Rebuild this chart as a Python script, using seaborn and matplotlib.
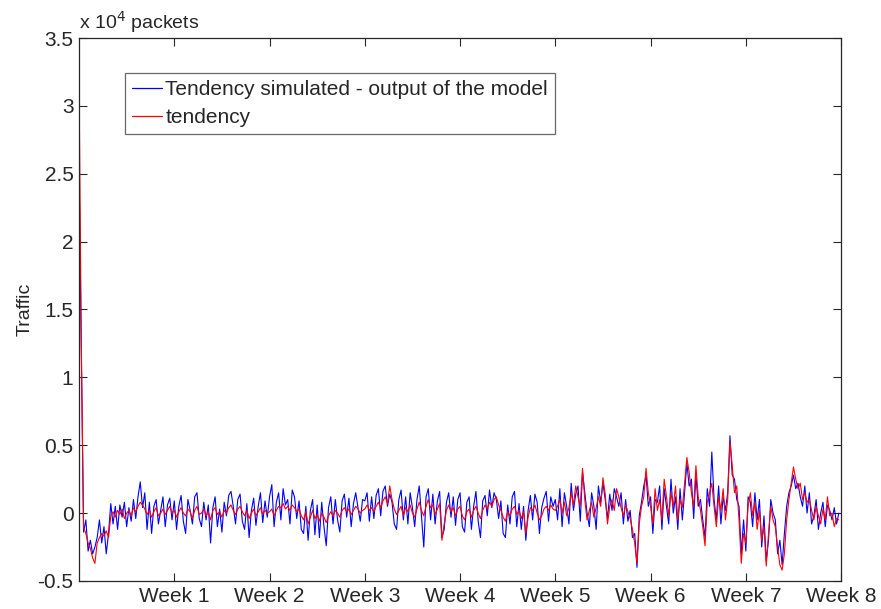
import numpy as np
import pandas as pd
import matplotlib
matplotlib.use("Agg")
import matplotlib.pyplot as plt
import seaborn as sns

# Traffic tendency, in units of 10^4 packets, one sample every 4 hours (8 weeks)
tendency_sim = [
    # week 0
    2.55, 1.20, -0.14, -0.05, -0.28, -0.20, -0.30, -0.25, -0.18, -0.05, -0.22, -0.10, -0.30, -0.15,
    0.07, -0.08, 0.05, -0.12, 0.06, -0.03, 0.08, -0.10, 0.04, -0.06, 0.10, -0.04, 0.12, 0.23,
    0.04, 0.15, -0.12, 0.08, -0.15, 0.05, 0.10, -0.08, 0.02, 0.12, -0.10, 0.06, 0.11, -0.05,
    # week 1
    0.09, -0.12, 0.05, 0.13, -0.06, -0.15, 0.10, 0.02, -0.08, 0.12, 0.15, -0.04, -0.10, 0.08,
    -0.05, 0.06, -0.22, 0.04, 0.12, -0.10, 0.03, -0.14, 0.08, -0.02, 0.13, 0.16, 0.05, -0.08,
    0.10, 0.14, -0.06, -0.12, 0.07, -0.18, 0.02, 0.11, -0.09, 0.05, 0.15, -0.07, 0.09, -0.03,
    # week 2
    0.12, 0.21, -0.10, 0.08, 0.15, -0.05, 0.18, 0.06, 0.10, -0.08, 0.17, 0.12, -0.04, 0.09,
    -0.12, -0.15, 0.05, -0.20, 0.02, 0.10, -0.16, 0.06, -0.18, 0.08, -0.10, -0.24, 0.04, 0.12,
    -0.08, 0.10, -0.05, -0.14, 0.09, 0.14, -0.03, 0.11, -0.10, 0.07, 0.15, 0.04, -0.06, 0.10,
    # week 3
    0.09, 0.15, -0.06, 0.12, -0.04, 0.13, 0.18, -0.02, 0.16, 0.20, 0.05, 0.14, 0.08, -0.08,
    -0.12, 0.10, 0.17, -0.05, 0.12, -0.08, 0.15, 0.04, -0.10, 0.10, 0.20, -0.02, -0.25, 0.12,
    0.18, -0.05, 0.14, -0.08, 0.09, 0.16, -0.18, -0.12, 0.08, 0.15, -0.03, 0.12, -0.09, 0.10,
    # week 4
    0.15, -0.10, -0.14, 0.08, 0.12, -0.12, 0.05, 0.16, -0.06, -0.18, 0.09, 0.13, -0.02, 0.17,
    0.04, 0.15, 0.10, -0.04, 0.09, -0.15, -0.18, 0.06, -0.08, 0.12, 0.16, -0.10, 0.07, -0.12,
    0.05, -0.20, 0.02, 0.13, -0.05, 0.14, 0.08, -0.15, 0.04, 0.11, 0.16, -0.06, 0.12, 0.05,
    # week 5
    0.10, -0.05, 0.18, -0.10, 0.15, 0.05, -0.08, 0.22, 0.02, 0.14, 0.20, -0.06, 0.30, 0.15,
    0.00, -0.10, 0.15, 0.05, -0.12, 0.20, 0.08, 0.22, 0.10, -0.04, 0.14, 0.02, 0.18, 0.12,
    0.05, 0.15, -0.08, 0.10, -0.06, 0.02, -0.18, -0.15, -0.40, -0.02, 0.08, 0.20, 0.28, 0.05,
    # week 6
    0.12, -0.15, 0.10, 0.08, 0.20, -0.12, 0.18, 0.05, -0.08, 0.25, 0.00, 0.12, -0.12, 0.18,
    -0.05, 0.15, 0.37, 0.20, 0.25, -0.04, 0.28, 0.05, 0.10, -0.05, -0.18, 0.18, 0.05, 0.45,
    0.10, -0.05, 0.20, -0.08, 0.12, 0.02, 0.15, 0.57, 0.28, 0.25, 0.10, 0.05, -0.30, -0.05,
    # week 7
    -0.28, 0.12, 0.08, -0.10, 0.15, -0.05, 0.10, -0.25, -0.02, -0.35, -0.20, 0.10, 0.00, -0.05,
    -0.30, -0.20, -0.38, -0.15, 0.05, 0.15, 0.20, 0.28, 0.18, 0.22, 0.12, 0.05, 0.20, 0.00,
    0.15, -0.08, -0.02, 0.10, -0.12, 0.00, 0.08, -0.10, 0.06, 0.02, -0.05, 0.04, -0.08, 0.00,
]

tendency_obs = [
    # week 0
    3.20, 1.25, -0.10, -0.15, -0.22, -0.26, -0.33, -0.37, -0.22, -0.18, -0.15, -0.17, -0.13, -0.18,
    -0.02, 0.01, -0.03, 0.02, -0.01, 0.03, -0.04, 0.00, 0.02, -0.02, 0.04, 0.01, 0.05, 0.08,
    0.06, 0.03, -0.01, 0.02, -0.03, 0.01, 0.04, -0.02, 0.00, 0.03, -0.01, 0.02, 0.05, 0.00,
    # week 1
    0.02, -0.03, 0.01, 0.04, 0.00, -0.02, 0.03, 0.01, -0.04, 0.02, 0.05, -0.01, 0.00, 0.03,
    -0.02, 0.01, -0.05, 0.02, 0.04, -0.01, 0.01, -0.03, 0.02, 0.00, 0.04, 0.06, 0.02, -0.01,
    0.03, 0.05, 0.01, -0.02, 0.02, -0.04, 0.00, 0.03, -0.02, 0.01, 0.04, -0.01, 0.02, 0.00,
    # week 2
    0.01, 0.03, -0.02, 0.02, 0.05, 0.04, 0.07, 0.03, 0.05, 0.02, 0.06, 0.04, 0.01, 0.03,
    -0.02, -0.05, 0.01, -0.08, -0.03, 0.02, -0.04, -0.01, -0.06, 0.00, -0.03, -0.07, -0.02, 0.01,
    -0.02, 0.02, 0.00, -0.03, 0.02, 0.04, 0.01, 0.03, -0.01, 0.02, 0.05, 0.03, 0.00, 0.02,
    # week 3
    0.03, 0.06, 0.02, 0.04, 0.01, 0.05, 0.08, 0.04, 0.09, 0.12, 0.07, 0.20, 0.10, 0.03,
    -0.01, 0.02, 0.05, -0.02, 0.04, 0.01, 0.06, 0.00, -0.03, 0.03, 0.08, 0.02, -0.02, 0.05,
    0.10, 0.04, 0.06, -0.01, 0.03, 0.07, -0.20, -0.08, 0.02, 0.06, 0.01, 0.04, -0.02, 0.03,
    # week 4
    0.05, -0.02, -0.05, 0.01, 0.03, -0.03, 0.02, 0.05, 0.00, -0.04, 0.02, 0.06, 0.03, 0.08,
    0.05, 0.10, 0.12, 0.06, 0.02, -0.03, -0.06, 0.01, -0.02, 0.03, 0.05, -0.01, 0.02, -0.04,
    0.01, -0.15, -0.03, 0.04, 0.02, 0.06, 0.00, -0.05, -0.02, 0.03, 0.05, 0.02, 0.06, 0.03,
    # week 5
    0.02, 0.05, 0.10, 0.00, 0.08, -0.02, 0.04, 0.15, 0.06, 0.20, 0.12, 0.05, 0.33, 0.10,
    -0.05, 0.02, 0.08, -0.03, 0.04, 0.12, 0.05, 0.26, 0.14, -0.08, 0.05, 0.10, 0.02, 0.18,
    0.12, 0.04, -0.02, 0.06, 0.01, -0.04, -0.12, -0.22, -0.37, -0.08, 0.05, 0.12, 0.33, 0.15,
    # week 6
    0.05, -0.08, 0.18, 0.02, 0.10, -0.05, 0.25, 0.12, -0.02, 0.15, 0.05, 0.20, -0.05, 0.10,
    0.04, 0.22, 0.41, 0.30, 0.15, 0.05, 0.35, 0.12, 0.02, -0.10, -0.24, 0.08, 0.15, 0.22,
    0.05, -0.10, 0.12, 0.02, 0.18, -0.05, 0.10, 0.53, 0.35, 0.15, 0.20, -0.05, -0.37, -0.15,
    # week 7
    -0.22, 0.05, 0.15, -0.02, 0.08, -0.12, 0.02, -0.20, -0.10, -0.39, -0.15, 0.05, -0.05, -0.10,
    -0.25, -0.38, -0.42, -0.30, -0.05, 0.10, 0.22, 0.34, 0.25, 0.18, 0.22, 0.10, 0.15, 0.08,
    0.10, 0.02, -0.05, 0.05, -0.02, -0.08, 0.03, -0.05, 0.12, -0.02, 0.00, -0.10, -0.04, -0.05,
]

series_names = ["Tendency simulated - output of the model", "tendency"]
series_colors = ["#0000ff", "#ff0000"]
week_labels = ["Week 1", "Week 2", "Week 3", "Week 4", "Week 5", "Week 6", "Week 7", "Week 8"]
y_ticks = [-0.5, 0, 0.5, 1, 1.5, 2, 2.5, 3, 3.5]
y_tick_labels = ["-0.5", "0", "0.5", "1", "1.5", "2", "2.5", "3", "3.5"]

step_hours = 4
hours = np.arange(len(tendency_obs)) * step_hours

df = pd.concat([
    pd.DataFrame({"hour": hours, "traffic": tendency_sim, "series": series_names[0]}),
    pd.DataFrame({"hour": hours, "traffic": tendency_obs, "series": series_names[1]}),
], ignore_index=True)

sns.set_style("white")
plt.rcParams["font.family"] = ["Liberation Sans", "DejaVu Sans"]

fig = plt.figure(figsize=(8.81, 6.09), dpi=100)
ax = fig.add_axes([0.0897, 0.046, 0.865, 0.8916])

sns.lineplot(data=df, x="hour", y="traffic", hue="series", hue_order=series_names,
             palette=series_colors, estimator=None, sort=False, linewidth=0.8, ax=ax)

ax.set_xlim(0, 8 * 168)
ax.set_ylim(-0.5, 3.5)
ax.set_xticks([168 * (k + 1) for k in range(8)])
ax.set_xticklabels(week_labels)
ax.set_yticks(y_ticks)
ax.set_yticklabels(y_tick_labels)
ax.set_xlabel("")
ax.set_ylabel("Traffic", fontsize=14, labelpad=3)

edge = "#262626"
for s in ax.spines.values():
    s.set_visible(True)
    s.set_color(edge)
    s.set_linewidth(0.9)
ax.tick_params(direction="in", length=6, width=0.8, color=edge, labelsize=15,
               top=True, right=True, bottom=True, left=True, pad=4)

ax.text(0.0, 1.006, r"x 10$^4$ packets", transform=ax.transAxes, fontsize=14,
        ha="left", va="bottom")

leg = ax.legend(loc="upper left", bbox_to_anchor=(0.060, 0.9355), borderaxespad=0,
                fontsize=15, frameon=True, fancybox=False, handlelength=1.45,
                handletextpad=0.15, labelspacing=0.42, borderpad=0.35)
leg.get_frame().set_edgecolor("#444444")
leg.get_frame().set_linewidth(0.9)
for h in leg.get_lines():
    h.set_linewidth(0.9)

fig.savefig("out.png", dpi=100, facecolor="white")
